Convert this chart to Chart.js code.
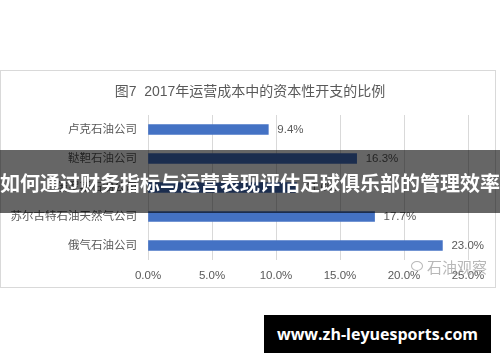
<!DOCTYPE html>
<html>
<head>
<meta charset="utf-8">
<script src="https://cdn.jsdelivr.net/npm/chart.js@4"></script>
<style>
  body { margin: 0; background: #fff; }
  #wrap { position: relative; width: 500px; height: 362px; overflow: hidden; }
  #card { position: absolute; left: 0; top: 70px; width: 496px; height: 218px; border: 1px solid #d9d9d9; box-sizing: border-box; }
  #chart { position: absolute; left: 0; top: 0; }
  #band { position: absolute; left: 0; top: 150px; width: 500px; height: 63px; background: rgba(0,0,0,0.6); }
  #bandText { position: absolute; left: 0; top: 170px; width: 500px; text-align: center; color: #fff; font: bold 20px 'Noto Sans CJK SC', sans-serif; line-height: 26px; white-space: nowrap; }
  #mark { position: absolute; left: 411px; top: 257px; color: rgba(160,160,160,0.75); font: 15px 'Noto Sans CJK SC', sans-serif; line-height: 20px; white-space: nowrap; }
  #mark span.icon { display: inline-block; width: 10px; height: 8px; border: 1px solid rgba(160,160,160,0.75); border-radius: 50%; margin-right: 4px; vertical-align: 2px; }
  #site { position: absolute; left: 264px; top: 315px; width: 227px; height: 38px; background: #000; color: #fff; font: bold 16px 'Open Sans', 'DejaVu Sans', sans-serif; line-height: 38px; text-align: center; }
</style>
</head>
<body>
<div id="wrap">
  <div id="card"></div>
  <canvas id="chart" width="500" height="362"></canvas>
  <div id="band"></div>
  <div id="bandText">如何通过财务指标与运营表现评估足球俱乐部的管理效率</div>
  <div id="mark"><span class="icon"></span>石油观察</div>
  <div id="site">www.zh-leyuesports.com</div>
</div>
<script>
const chartTitle = '图7  2017年运营成本中的资本性开支的比例';
const companies = ['卢克石油公司', '鞑靼石油公司', '俄罗斯石油公司', '苏尔古特石油天然气公司', '俄气石油公司'];
const capexShare = [0.094, 0.163, 0.116, 0.177, 0.230];
const xTicks = [0, 0.05, 0.10, 0.15, 0.20, 0.25];

const FONT = "'Liberation Sans', 'Noto Sans CJK SC', sans-serif";
const pct = v => (v * 100).toFixed(1) + '%';

// value labels at the end of each bar + title centred on the card
const barLabels = {
  id: 'barLabels',
  afterDatasetsDraw(chart) {
    const ctx = chart.ctx;
    const meta = chart.getDatasetMeta(0);
    ctx.save();
    ctx.font = '11.5px ' + FONT;
    ctx.fillStyle = '#595959';
    ctx.textBaseline = 'middle';
    meta.data.forEach((bar, i) => {
      ctx.fillText(pct(capexShare[i]), bar.x + 9, bar.y);
    });
    ctx.font = '14px ' + FONT;
    ctx.textAlign = 'center';
    ctx.fillText(chartTitle, 250, 92);
    ctx.restore();
  }
};

new Chart('chart', {
  type: 'bar',
  data: {
    labels: companies,
    datasets: [{
      data: capexShare,
      backgroundColor: '#4472c4',
      barThickness: 10
    }]
  },
  options: {
    indexAxis: 'y',
    responsive: false,
    animation: false,
    layout: { padding: { top: 115, right: 32, bottom: 72, left: 0 } },
    plugins: {
      legend: { display: false },
      tooltip: { enabled: false },
      title: { display: false }
    },
    scales: {
      x: {
        min: 0,
        max: 0.25,
        afterBuildTicks: s => { s.ticks = xTicks.map(v => ({ value: v })); },
        afterFit: s => { s.height = 30; },
        grid: { color: '#d9d9d9', drawTicks: false },
        border: { display: false },
        ticks: {
          padding: 9,
          color: '#595959',
          font: { family: FONT, size: 11.5 },
          callback: v => pct(v)
        }
      },
      y: {
        afterFit: s => { s.width = 148; },
        grid: { display: false, drawTicks: false },
        border: { display: false },
        ticks: {
          padding: 11,
          color: '#595959',
          font: { family: FONT, size: 11.5 }
        }
      }
    }
  },
  plugins: [barLabels]
});
</script>
</body>
</html>
